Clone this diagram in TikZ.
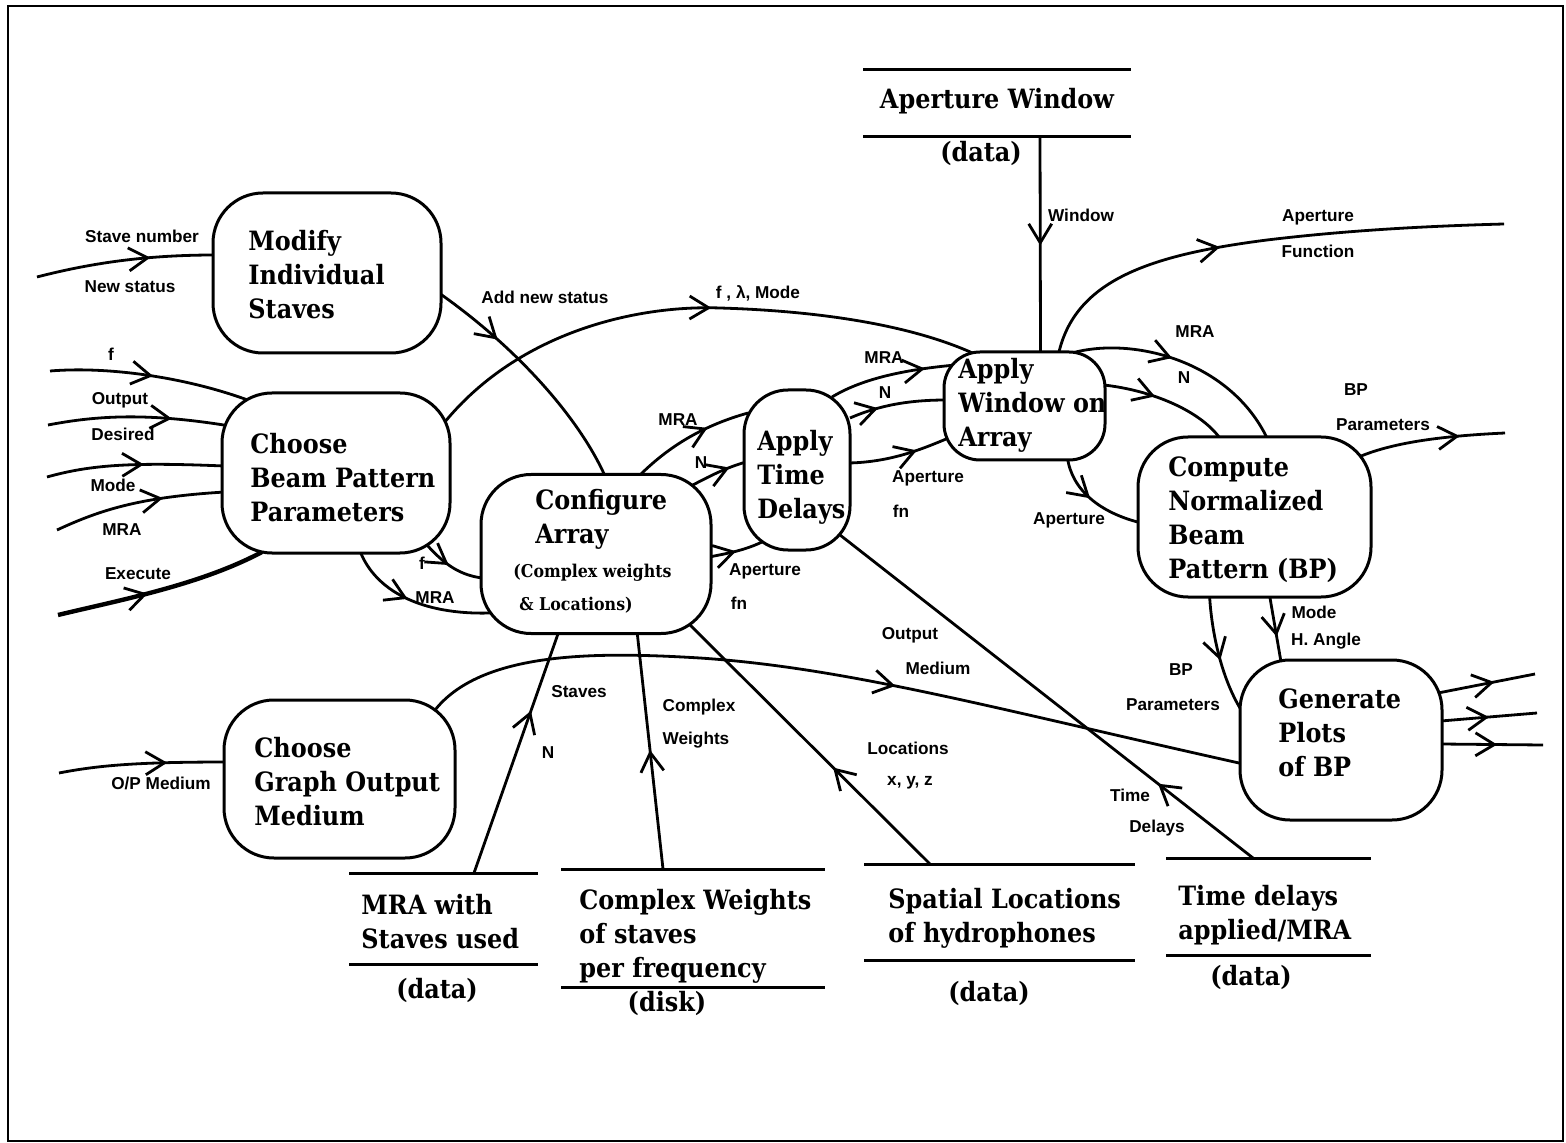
\documentclass[tikz,border=0pt]{standalone}
\usepackage{fontspec}
\setmainfont{DejaVu Serif}
\newfontfamily\nodefont{DejaVu Serif}[FakeStretch=0.9]
\newfontfamily\labfont{Liberation Sans}
\usetikzlibrary{arrows.meta,decorations.markings}
\pgfdeclarelayer{conn}
\pgfsetlayers{conn,main}

\tikzset{
  procbox/.style n args={3}{draw, line width=1.5pt, fill=white, inner sep=0pt,
    outer sep=0pt, minimum width=#1, minimum height=#2, rounded corners=#3},
  store/.style n args={2}{inner sep=0pt, outer sep=0pt, minimum width=#1, minimum height=#2},
  storeline/.style={line width=1.5pt},
  boxtext/.style={font=\nodefont\bfseries\fontsize{13.3}{17}\selectfont, align=left,
    anchor=west, inner sep=0pt},
  smalltext/.style={font=\nodefont\bfseries\fontsize{8.8}{16.5}\selectfont, align=left,
    anchor=west, inner sep=0pt},
  datatext/.style={font=\nodefont\bfseries\fontsize{13.3}{17}\selectfont, inner sep=0pt},
  lab/.style={font=\labfont\bfseries\fontsize{8.6}{10}\selectfont, inner sep=0pt},
  flow/.style={line width=1.4pt},
  heavyflow/.style={line width=2.2pt},
  midarr/.style={postaction={decorate, decoration={markings,
    mark=at position #1 with {\arrow[line width=1.4pt]{Straight Barb[length=9.5pt,width=11.5pt]}}}}}
}

\begin{document}
\begin{tikzpicture}[x=0.5pt, y=-0.5pt]
\useasboundingbox (0,0) rectangle (1566,1143);

% ---------- processes ----------
\node[procbox={114pt}{80pt}{25pt}] (mod) at (327,273) {};
\node[procbox={114pt}{80pt}{25pt}] (cbp) at (336,473) {};
\node[procbox={115pt}{79.5pt}{25pt}] (cfg) at (596,554) {};
\node[procbox={53pt}{80pt}{22pt}] (atd) at (797,470) {};
\node[procbox={80.5pt}{54pt}{18pt}] (awa) at (1024.5,406) {};
\node[procbox={116.5pt}{80pt}{25pt}] (cnb) at (1254.5,517) {};
\node[procbox={101pt}{80pt}{25pt}] (gpl) at (1341,740) {};
\node[procbox={115.5pt}{79pt}{25pt}] (cgo) at (339.5,779) {};

\node[boxtext] (mod-t) at (248,275) {Modify\\Individual\\Staves};
\node[boxtext] (cbp-t) at (250,478) {Choose\\Beam Pattern\\Parameters};
\node[boxtext] (cfg-t) at (535,519.5) {Configure\\Array};
\node[smalltext] (cfg-s) at (513,588.5) {(Complex weights\\\hspace{3pt}\& Locations)};
\node[boxtext] (atd-t) at (757,477) {Apply\\Time\\Delays};
\node[boxtext] (awa-t) at (958,405) {Apply\\Window on\\Array};
\node[boxtext] (cnb-t) at (1168,520) {Compute\\Normalized\\Beam\\Pattern (BP)};
\node[boxtext] (gpl-t) at (1278,733) {Generate\\Plots\\of BP};
\node[boxtext] (cgo-t) at (254,782) {Choose\\Graph Output\\Medium};

% ---------- data stores ----------
\node[store={134pt}{33.5pt}] (st-aw) at (997,103.5) {};
\node[store={94.5pt}{45.5pt}] (st-mra) at (443.5,918.5) {};
\node[store={132pt}{59pt}] (st-cw) at (693,928) {};
\node[store={135.5pt}{48pt}] (st-sl) at (999.5,912) {};
\node[store={102.5pt}{48.5pt}] (st-td) at (1268.5,906.5) {};

\foreach \s in {st-aw,st-mra,st-cw,st-sl,st-td}{
  \draw[storeline] (\s.north west) -- (\s.north east);
  \draw[storeline] (\s.south west) -- (\s.south east);
}

\node[datatext] (st-aw-t) at (997,101) {Aperture Window};
\node[datatext] (st-aw-d) at (981,153) {(data)};
\node[boxtext] (st-mra-t) at (361,921.5) {MRA with\\Staves used};
\node[datatext] (st-mra-d) at (437,990) {(data)};
\node[boxtext] (st-cw-t) at (579,936) {Complex Weights\\of staves\\per frequency};
\node[datatext] (st-cw-d) at (667,1003) {(disk)};
\node[boxtext] (st-sl-t) at (888,918.5) {Spatial Locations\\of hydrophones};
\node[datatext] (st-sl-d) at (989,993) {(data)};
\node[boxtext] (st-td-t) at (1178,915.5) {Time delays\\applied/MRA};
\node[datatext] (st-td-d) at (1251,977) {(data)};

% ---------- free ends ----------
\coordinate (in-stave) at (37,277);
\coordinate (in-f) at (50,371);
\coordinate (in-od) at (48,425);
\coordinate (in-mode) at (47,477);
\coordinate (in-mra) at (57,530);
\coordinate (in-exec) at (58,615);
\coordinate (in-op) at (59,773);
\coordinate (out-apf) at (1504,224);
\coordinate (out-bpp) at (1505,433);
\coordinate (out-1) at (1535,674);
\coordinate (out-2) at (1537,713);
\coordinate (out-3) at (1543,745);

% ---------- flows ----------
\begin{pgfonlayer}{conn}
\fill[white] (0,0) rectangle (1566,1143);
\draw[line width=1.2pt] (8,6) rectangle (1563,1141);

% inputs
\draw[flow, midarr=0.64] (in-stave) .. controls (95,262) and (150,255) .. ([shift={(-112,-18)}]mod.center);
\draw[flow, midarr=0.5] (in-f) .. controls (110,366) and (190,378) .. ([shift={(-83,-71)}]cbp.center);
\draw[flow, midarr=0.68] (in-od) .. controls (100,415) and (150,413) .. ([shift={(-106,-47)}]cbp.center);
\draw[flow, midarr=0.55] (in-mode) .. controls (90,465) and (130,462) .. ([shift={(-112,-7)}]cbp.center);
\draw[flow, midarr=0.64] (in-mra) .. controls (100,510) and (140,497) .. ([shift={(-111,19)}]cbp.center);
\draw[heavyflow, midarr=0.43] (in-exec) .. controls (120,600) and (200,585) .. ([shift={(-74,79)}]cbp.center);
\draw[flow, midarr=0.64] (in-op) .. controls (100,765) and (140,762) .. ([shift={(-111,-17)}]cgo.center);

% choose beam pattern parameters
\draw[flow, midarr=0.45] ([shift={(91,72)}]cbp.center) .. controls (445,565) and (460,575) .. ([shift={(-114,24)}]cfg.center);
\draw[flow, midarr=0.45] ([shift={(24,78)}]cbp.center) .. controls (375,590) and (420,615) .. ([shift={(-106,59)}]cfg.center);
\draw[flow, midarr=0.53] ([shift={(108,-50)}]cbp.center) .. controls (520,330) and (640,305) .. (720,308)
   .. controls (820,311) and (910,325) .. ([shift={(-52,-53)}]awa.center);

% modify individual staves
\draw[flow, midarr=0.3] ([shift={(112,20)}]mod.center) .. controls (520,350) and (580,420) .. ([shift={(9,-78)}]cfg.center);

% configure array -> apply time delays
\draw[flow, midarr=0.66] ([shift={(43,-78)}]cfg.center) .. controls (670,445) and (705,425) .. ([shift={(-49,-57)}]atd.center);
\draw[flow, midarr=0.72] ([shift={(93,-67)}]cfg.center) .. controls (710,476) and (725,468) .. ([shift={(-51,-8)}]atd.center);
\draw[flow, midarr=0.5] ([shift={(113,3)}]cfg.center) .. controls (730,553) and (745,550) .. ([shift={(-35,72)}]atd.center);

% apply time delays -> apply window
\draw[flow, midarr=0.76] ([shift={(35,-73)}]atd.center) .. controls (860,380) and (900,370) .. ([shift={(-69,-41)}]awa.center);
\draw[flow, midarr=0.3] ([shift={(53,-52)}]atd.center) .. controls (880,405) and (910,400) .. ([shift={(-78,-6)}]awa.center);
\draw[flow, midarr=0.67] ([shift={(52,-7)}]atd.center) .. controls (890,462) and (920,450) .. ([shift={(-76,32)}]awa.center);

% aperture window data
\draw[flow, midarr=0.5] ([shift={(43,33.5)}]st-aw.center) -- ([shift={(16,-52)}]awa.center);

% apply window outputs
\draw[flow, midarr=0.42] ([shift={(34,-52)}]awa.center) .. controls (1075,280) and (1150,255) .. (1267,240)
   .. controls (1350,230) and (1430,226) .. (out-apf);
\draw[flow, midarr=0.45] ([shift={(44,-52)}]awa.center) .. controls (1130,335) and (1230,360) .. ([shift={(13,-78)}]cnb.center);
\draw[flow, midarr=0.4] ([shift={(79,-21)}]awa.center) .. controls (1150,390) and (1200,410) .. ([shift={(-34,-78)}]cnb.center);
\draw[flow, midarr=0.45] ([shift={(43,52)}]awa.center) .. controls (1072,490) and (1100,513) .. ([shift={(-113,6)}]cnb.center);

% compute normalized beam pattern outputs
\draw[flow, midarr=0.7] ([shift={(102,-59)}]cnb.center) .. controls (1390,443) and (1440,436) .. (out-bpp);
\draw[flow, midarr=0.5] ([shift={(-45,78)}]cnb.center) .. controls (1212,640) and (1225,690) .. ([shift={(-93,-20)}]gpl.center);
\draw[flow, midarr=0.62] ([shift={(15,78)}]cnb.center) -- ([shift={(-60,-78)}]gpl.center);

% generate plots outputs
\draw[flow, midarr=0.58] ([shift={(97,-47)}]gpl.center) -- (out-1);
\draw[flow, midarr=0.5] ([shift={(100,-19)}]gpl.center) -- (out-2);
\draw[flow, midarr=0.55] ([shift={(100,4)}]gpl.center) -- (out-3);

% output medium
\draw[flow, midarr=0.57] ([shift={(94,-67)}]cgo.center) .. controls (480,650) and (600,652) .. (700,658)
   .. controls (850,668) and (1000,710) .. ([shift={(-93,25)}]gpl.center);

% data stores into processes
\draw[flow, midarr=0.67] ([shift={(30.5,-45.5)}]st-mra.center) -- ([shift={(-37,77)}]cfg.center);
\draw[flow, midarr=0.5] ([shift={(-30,-59)}]st-cw.center) -- ([shift={(41,77)}]cfg.center);
\draw[flow, midarr=0.4] ([shift={(-69.5,-48)}]st-sl.center) -- ([shift={(92,69)}]cfg.center);
\draw[flow, midarr=0.23] ([shift={(-15.5,-48.5)}]st-td.center) -- ([shift={(43,65)}]atd.center);
\end{pgfonlayer}

% ---------- flow labels ----------
\node[lab] (l-stave) at (142,236) {Stave number};
\node[lab] (l-newst) at (130,287) {New status};
\node[lab] (l-f1) at (111,354) {f};
\node[lab] (l-out1) at (120,400) {Output};
\node[lab] (l-des) at (123,434) {Desired};
\node[lab] (l-mode1) at (113,485) {Mode};
\node[lab] (l-mra1) at (122,530) {MRA};
\node[lab] (l-exec) at (138,574) {Execute};
\node[lab] (l-addst) at (545,297) {Add new status};
\node[lab] (l-flm) at (758,293) {f , λ, Mode};
\node[lab] (l-f2) at (422,563) {f};
\node[lab] (l-mra2) at (435,598) {MRA};
\node[lab] (l-mra3) at (678,420) {MRA};
\node[lab] (l-n1) at (701,463) {N};
\node[lab] (l-ap1) at (765,571) {Aperture};
\node[lab] (l-fn1) at (739,603) {fn};
\node[lab] (l-mra4) at (884,358) {MRA};
\node[lab] (l-n2) at (885,393) {N};
\node[lab] (l-ap2) at (928,478) {Aperture};
\node[lab] (l-fn2) at (901,511) {fn};
\node[lab] (l-win) at (1081,215) {Window};
\node[lab] (l-ap3) at (1318,217) {Aperture};
\node[lab] (l-func) at (1318,251) {Function};
\node[lab] (l-mra5) at (1195,332) {MRA};
\node[lab] (l-n3) at (1184,378) {N};
\node[lab] (l-bp1) at (1356,390) {BP};
\node[lab] (l-par1) at (1383,425) {Parameters};
\node[lab] (l-ap4) at (1069,520) {Aperture};
\node[lab] (l-mode2) at (1314,612) {Mode};
\node[lab] (l-hang) at (1326,641) {H. Angle};
\node[lab] (l-bp2) at (1181,670) {BP};
\node[lab] (l-par2) at (1173,705) {Parameters};
\node[lab] (l-out2) at (910,635) {Output};
\node[lab] (l-med) at (938,668) {Medium};
\node[lab] (l-staves) at (579,692) {Staves};
\node[lab] (l-n4) at (548,753) {N};
\node[lab] (l-cplx) at (699,707) {Complex};
\node[lab] (l-wts) at (696,740) {Weights};
\node[lab] (l-loc) at (908,748) {Locations};
\node[lab] (l-xyz) at (910,783) {x, y, z};
\node[lab] (l-time) at (1130,795) {Time};
\node[lab] (l-del) at (1157,828) {Delays};
\node[lab] (l-opm) at (161,783) {O/P Medium};
\end{tikzpicture}
\end{document}
